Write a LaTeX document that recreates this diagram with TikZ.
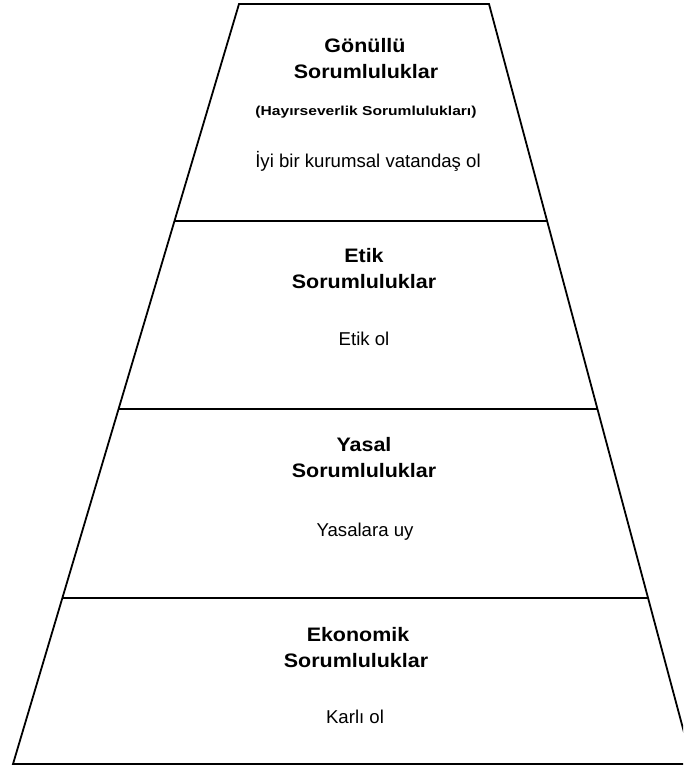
\documentclass[tikz,border=0pt]{standalone}
\usepackage{fontspec}
\setmainfont{Liberation Sans}
\usetikzlibrary{calc}
\newcommand{\ttl}[1]{\scalebox{1.1}[1]{#1}}
\newcommand{\sbt}[1]{\scalebox{1.2}[1]{#1}}
\begin{document}
\begin{tikzpicture}[x=1pt,y=-1pt,
  edge/.style={line width=1.8pt, black, line join=miter},
  title/.style={font=\fontsize{19.5}{24}\selectfont\bfseries, anchor=base, inner sep=0pt},
  sub/.style={font=\fontsize{13}{16}\selectfont\bfseries, anchor=base, inner sep=0pt},
  body/.style={font=\fontsize{18.6}{22}\selectfont, anchor=base, inner sep=0pt}]
\useasboundingbox (0,0) rectangle (683,771);
\begin{scope}
\clip (0,0) rectangle (683,771);
\coordinate (TL) at (239,4);
\coordinate (TR) at (489,4);
\coordinate (BL) at (13,764);
\coordinate (BR) at (692.5,764);
\draw[edge] (TL) -- (TR) -- (BR) -- (BL) -- cycle;
\coordinate (L1) at ($(TL)!0.2855!(BL)$);
\coordinate (R1) at ($(TR)!0.2855!(BR)$);
\coordinate (L2) at ($(TL)!0.5329!(BL)$);
\coordinate (R2) at ($(TR)!0.5329!(BR)$);
\coordinate (L3) at ($(TL)!0.7816!(BL)$);
\coordinate (R3) at ($(TR)!0.7816!(BR)$);
\draw[edge] (L1) -- (R1);
\draw[edge] (L2) -- (R2);
\draw[edge] (L3) -- (R3);
\end{scope}
% Gönüllü
\node[title] (g1) at (365,52) {\ttl{Gönüllü}};
\node[title] (g2) at (366,78) {\ttl{Sorumluluklar}};
\node[sub] (g3) at (366,115) {\sbt{(Hayırseverlik Sorumlulukları)}};
\node[body] (g4) at (368,167) {İyi bir kurumsal vatandaş ol};
% Etik
\node[title] (e1) at (364,262) {\ttl{Etik}};
\node[title] (e2) at (364,288) {\ttl{Sorumluluklar}};
\node[body] (e3) at (364,345) {Etik ol};
% Yasal
\node[title] (y1) at (364,451) {\ttl{Yasal}};
\node[title] (y2) at (364,477) {\ttl{Sorumluluklar}};
\node[body] (y3) at (365,536) {Yasalara uy};
% Ekonomik
\node[title] (k1) at (358,641) {\ttl{Ekonomik}};
\node[title] (k2) at (356,667) {\ttl{Sorumluluklar}};
\node[body] (k3) at (355,723) {Karlı ol};
\end{tikzpicture}
\end{document}
